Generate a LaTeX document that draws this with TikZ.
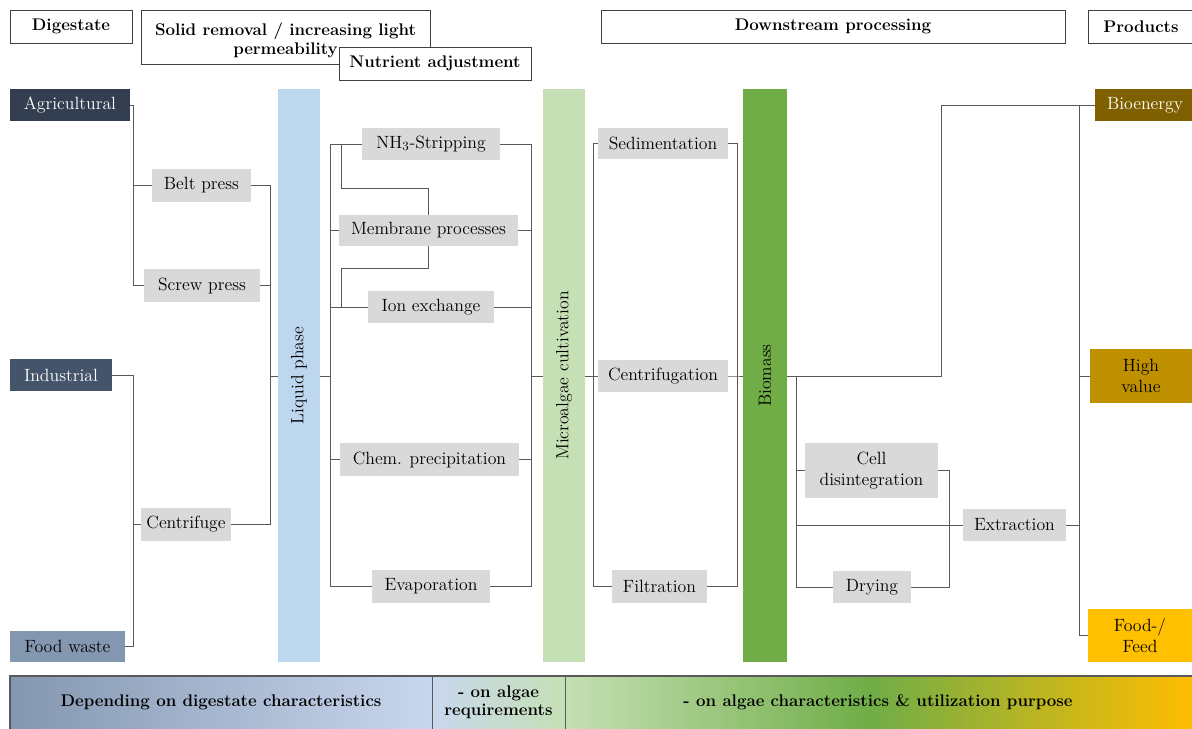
\documentclass[tikz,border=0pt]{standalone}
\usepackage{graphicx}
\usetikzlibrary{positioning}

\definecolor{linegray}{HTML}{595959}
\definecolor{boxgray}{HTML}{D9D9D9}
\definecolor{agridark}{HTML}{333F50}
\definecolor{indusdark}{HTML}{44546A}
\definecolor{foodblue}{HTML}{8497B0}
\definecolor{liquidblue}{HTML}{BDD7EE}
\definecolor{paleblue}{HTML}{C9D7EE}
\definecolor{algaegreen}{HTML}{C5E0B4}
\definecolor{massgreen}{HTML}{70AD47}
\definecolor{energybrown}{HTML}{7F6000}
\definecolor{valuegold}{HTML}{BF9000}
\definecolor{feedyellow}{HTML}{FFC000}

\tikzset{
  headbox/.style={draw=black!75, fill=white, inner sep=0pt, align=center,
    font=\fontsize{12}{13.5}\selectfont\bfseries},
  procbox/.style={fill=boxgray, inner sep=0pt, align=center},
  srcbox/.style={inner sep=0pt, align=center, minimum height=0.8cm},
  phasebar/.style={inner sep=0pt, minimum height=14.325cm},
  link/.style={draw=linegray, line width=0.6pt},
  bartext/.style={font=\fontsize{12}{13.5}\selectfont\bfseries, align=center}
}

\begin{document}
\begin{tikzpicture}[x=0.025cm, y=-0.025cm, font=\fontsize{12.6}{14.5}\selectfont]
  \useasboundingbox (0,0) rectangle (1192,729);

  % headers
  \node[headbox, minimum width=3.05cm, minimum height=0.825cm] (hdig) at (71,26.5) {Digestate};
  \node[headbox, minimum width=7.225cm, minimum height=1.35cm, anchor=north] (hsolid) at (285.5,10)
    {\rule{0pt}{13pt}Solid removal / increasing light\\permeability};
  \node[headbox, minimum width=4.8cm, minimum height=0.825cm] (hnutr) at (435,63.5) {Nutrient adjustment};
  \node[headbox, minimum width=11.6cm, minimum height=0.825cm] (hdown) at (833,26.5) {Downstream processing};
  \node[headbox, minimum width=2.65cm, minimum height=0.825cm] (hprod) at (1141,26.5) {Products};

  % digestate sources
  \node[srcbox, fill=agridark, text=white, minimum width=3cm] (agri) at (70,105) {Agricultural};
  \node[srcbox, fill=indusdark, text=white, minimum width=2.55cm] (indus) at (61,375) {Industrial};
  \node[srcbox, fill=foodblue, minimum width=2.875cm, minimum height=0.775cm] (food) at (67.5,646.5) {Food waste};

  % solid removal
  \node[procbox, minimum width=2.475cm, minimum height=0.825cm] (belt) at (201.5,185.5) {Belt press};
  \node[procbox, minimum width=2.9cm, minimum height=0.825cm] (screw) at (202,285.5) {Screw press};
  \node[procbox, minimum width=2.25cm, minimum height=0.825cm] (centrifuge) at (186,524.5) {Centrifuge};

  % phase bars
  \node[phasebar, fill=liquidblue, minimum width=1.05cm] (liquid) at (299,375.5) {\rotatebox{90}{Liquid phase}};
  \node[phasebar, fill=algaegreen, minimum width=1.05cm] (cultiv) at (564,375.5) {\rotatebox{90}{Microalgae cultivation}};
  \node[phasebar, fill=massgreen, minimum width=1.1cm] (biomass) at (765,375.5) {\rotatebox{90}{Biomass}};

  % nutrient adjustment
  \node[procbox, minimum width=3.45cm, minimum height=0.8cm] (nh3) at (431,144) {NH$_3$-Stripping};
  \node[procbox, minimum width=4.475cm, minimum height=0.775cm] (membrane) at (428.5,230.5) {Membrane processes};
  \node[procbox, minimum width=3.15cm, minimum height=0.8cm] (ion) at (431,307) {Ion exchange};
  \node[procbox, minimum width=4.475cm, minimum height=0.825cm] (chem) at (429.5,459.5) {Chem. precipitation};
  \node[procbox, minimum width=2.95cm, minimum height=0.825cm] (evap) at (431,586.5) {Evaporation};

  % harvesting
  \node[procbox, minimum width=3.25cm, minimum height=0.775cm] (sedim) at (663,143.5) {Sedimentation};
  \node[procbox, minimum width=3.25cm, minimum height=0.8cm] (centrif) at (663,376) {Centrifugation};
  \node[procbox, minimum width=2.375cm, minimum height=0.825cm] (filtr) at (659.5,586.5) {Filtration};

  % biomass treatment
  \node[procbox, minimum width=3.325cm, minimum height=1.375cm] (celldis) at (871.5,470.5) {Cell\\disintegration};
  \node[procbox, minimum width=1.95cm, minimum height=0.8cm] (drying) at (872,587) {Drying};
  \node[procbox, minimum width=2.575cm, minimum height=0.8cm] (extract) at (1014.5,525) {Extraction};

  % products
  \node[srcbox, fill=energybrown, text=white, minimum width=2.5cm] (bioen) at (1145,105) {Bioenergy};
  \node[srcbox, fill=valuegold, minimum width=2.55cm, minimum height=1.35cm] (highv) at (1141,376) {High\\value};
  \node[srcbox, fill=feedyellow, minimum width=2.6cm, minimum height=1.325cm] (foodf) at (1140,635.5) {Food-/\\Feed};

  % junctions
  \coordinate (ja) at (133,105);
  \coordinate (ji) at (133,375);
  \coordinate (jl) at (270,376);
  \coordinate (jn) at (330,376);
  \coordinate (js1) at (341,144);
  \coordinate (js2) at (341,188);
  \coordinate (js3) at (341,268);
  \coordinate (js4) at (341,307);
  \coordinate (jc) at (531,376);
  \coordinate (jd) at (593,376);
  \coordinate (je) at (737,376);
  \coordinate (jf) at (796,376);
  \coordinate (jb) at (941,376);
  \coordinate (jg) at (949,587);
  \coordinate (jp) at (1079,525);

  % connectors
  \path[link] (agri.east) -- (ja) |- (screw.west);
  \path[link] (ja |- belt.west) -- (belt.west);
  \path[link] (indus.east) -- (ji) |- (food.east);
  \path[link] (ji |- centrifuge.west) -- (centrifuge.west);
  \path[link] (belt.east) -| (jl);
  \path[link] (screw.east) -| (jl);
  \path[link] (centrifuge.east) -| (jl);
  \path[link] (jl) -- (jl -| liquid.west);
  \path[link] (jl -| liquid.east) -- (jn);
  \path[link] (jn) |- (nh3.west);
  \path[link] (jn) |- (membrane.west);
  \path[link] (jn) |- (ion.west);
  \path[link] (jn) |- (chem.west);
  \path[link] (jn) |- (evap.west);
  \path[link] (js1) -- (js2) -| (membrane.north);
  \path[link] (membrane.south) |- (js3) -- (js4);
  \path[link] (nh3.east) -| (jc);
  \path[link] (membrane.east) -| (jc);
  \path[link] (ion.east) -| (jc);
  \path[link] (chem.east) -| (jc);
  \path[link] (evap.east) -| (jc);
  \path[link] (jc) -- (jc -| cultiv.west);
  \path[link] (jd -| cultiv.east) -- (jd);
  \path[link] (jd) |- (sedim.west);
  \path[link] (jd) |- (filtr.west);
  \path[link] (jd) -- (centrif.west);
  \path[link] (sedim.east) -| (je);
  \path[link] (filtr.east) -| (je);
  \path[link] (centrif.east) -- (je) -- (je -| biomass.west);
  \path[link] (jf -| biomass.east) -- (jb) |- (bioen.west);
  \path[link] (jf) |- (celldis.west);
  \path[link] (jf) |- (drying.west);
  \path[link] (jf |- extract.west) -- (extract.west);
  \path[link] (celldis.east) -| (jg) -- (drying.east);
  \path[link] (extract.east) -- (jp);
  \path[link] (jp |- bioen.west) |- (foodf.west);
  \path[link] (jp) |- (highv.west);

  % bottom bar
  \shade[left color=foodblue, right color=paleblue] (10,676) rectangle (432,729);
  \shade[left color=paleblue, right color=algaegreen] (432,676) rectangle (565,729);
  \shade[left color=algaegreen, right color=massgreen] (565,676) rectangle (870,729);
  \shade[left color=massgreen, right color=feedyellow!95!orange] (870,676) rectangle (1192,729);
  \draw[linegray, line width=0.8pt] (1192,676) -- (10,676) -- (10,729);
  \draw[linegray, line width=0.6pt] (432,676) -- (432,729);
  \draw[linegray, line width=0.6pt] (565,676) -- (565,729);
  \node[bartext] (bota) at (221,702.5) {Depending on digestate characteristics};
  \node[bartext, font=\fontsize{12}{12.5}\selectfont\bfseries] (botb) at (498.5,702.5) {- on algae\\requirements};
  \node[bartext] (botc) at (878,702.5) {- on algae characteristics \& utilization purpose};
\end{tikzpicture}
\end{document}
